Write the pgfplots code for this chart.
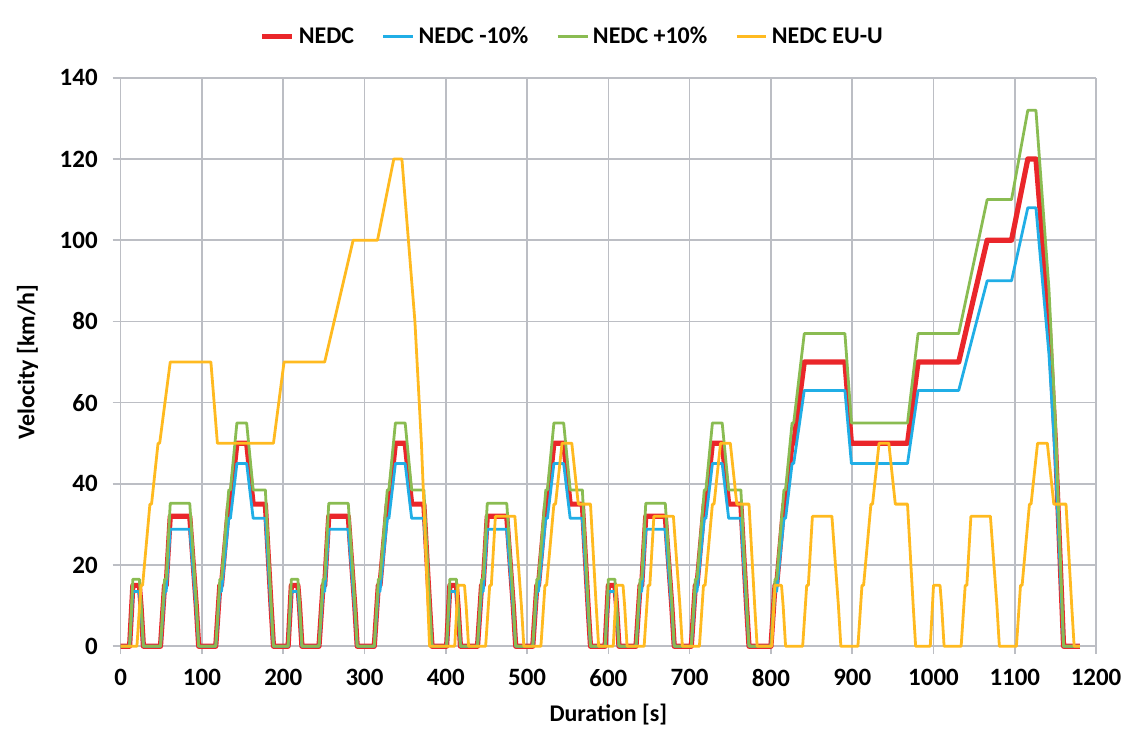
\documentclass[border=0pt]{standalone}
\usepackage{fontspec}
\setmainfont{Carlito}
\usepackage{pgfplots}
\usepackage{pgfplotstable}
\pgfplotsset{compat=1.18}
\definecolor{cred}{RGB}{234,38,42}
\definecolor{cblue}{RGB}{32,174,230}
\definecolor{cgreen}{RGB}{138,188,82}
\definecolor{cyellow}{RGB}{255,186,32}
\definecolor{cgrid}{RGB}{188,190,196}
% NEDC: t, v, v-10%, v+10%
\pgfplotstableread{
t v lo hi
0 0 0 0
11 0 0 0
15 15 13.5 16.5
23 15 13.5 16.5
25 10 9 11
28 0 0 0
49 0 0 0
54 15 13.5 16.5
56 15 13.5 16.5
61 32 28.8 35.2
85 32 28.8 35.2
93 10 9 11
96 0 0 0
117 0 0 0
122 15 13.5 16.5
124 15 13.5 16.5
133 35 31.5 38.5
135 35 31.5 38.5
143 50 45 55
155 50 45 55
163 35 31.5 38.5
176 35 31.5 38.5
178 35 31.5 38.5
185 10 9 11
188 0 0 0
195 0 0 0
206 0 0 0
210 15 13.5 16.5
218 15 13.5 16.5
220 10 9 11
223 0 0 0
244 0 0 0
249 15 13.5 16.5
251 15 13.5 16.5
256 32 28.8 35.2
280 32 28.8 35.2
288 10 9 11
291 0 0 0
312 0 0 0
317 15 13.5 16.5
319 15 13.5 16.5
328 35 31.5 38.5
330 35 31.5 38.5
338 50 45 55
350 50 45 55
358 35 31.5 38.5
371 35 31.5 38.5
373 35 31.5 38.5
380 10 9 11
383 0 0 0
390 0 0 0
401 0 0 0
405 15 13.5 16.5
413 15 13.5 16.5
415 10 9 11
418 0 0 0
439 0 0 0
444 15 13.5 16.5
446 15 13.5 16.5
451 32 28.8 35.2
475 32 28.8 35.2
483 10 9 11
486 0 0 0
507 0 0 0
512 15 13.5 16.5
514 15 13.5 16.5
523 35 31.5 38.5
525 35 31.5 38.5
533 50 45 55
545 50 45 55
553 35 31.5 38.5
566 35 31.5 38.5
568 35 31.5 38.5
575 10 9 11
578 0 0 0
585 0 0 0
596 0 0 0
600 15 13.5 16.5
608 15 13.5 16.5
610 10 9 11
613 0 0 0
634 0 0 0
639 15 13.5 16.5
641 15 13.5 16.5
646 32 28.8 35.2
670 32 28.8 35.2
678 10 9 11
681 0 0 0
702 0 0 0
707 15 13.5 16.5
709 15 13.5 16.5
718 35 31.5 38.5
720 35 31.5 38.5
728 50 45 55
740 50 45 55
748 35 31.5 38.5
761 35 31.5 38.5
763 35 31.5 38.5
770 10 9 11
773 0 0 0
780 0 0 0
800 0 0 0
805 15 13.5 16.5
807 15 13.5 16.5
816 35 31.5 38.5
818 35 31.5 38.5
826 50 45 55
828 50 45 55
841 70 63 77
891 70 63 77
899 50 45 55
968 50 45 55
981 70 63 77
1031 70 63 77
1066 100 90 110
1096 100 90 110
1116 120 108 132
1126 120 108 132
1142 80 72 88
1150 50 45 55
1160 0 0 0
1180 0 0 0
}\nedc
% NEDC EU-U: t, v
\pgfplotstableread{
t v
0 0
20 0
25 15
27 15
36 35
38 35
46 50
48 50
61 70
111 70
119 50
188 50
201 70
251 70
286 100
316 100
336 120
346 120
362 80
370 50
380 0
411 0
415 15
423 15
425 10
428 0
449 0
454 15
456 15
461 32
485 32
493 10
496 0
517 0
522 15
524 15
533 35
535 35
543 50
555 50
563 35
576 35
578 35
585 10
588 0
606 0
610 15
618 15
620 10
623 0
644 0
649 15
651 15
656 32
680 32
688 10
691 0
712 0
717 15
719 15
728 35
730 35
738 50
750 50
758 35
771 35
773 35
780 10
783 0
801 0
805 15
813 15
815 10
818 0
839 0
844 15
846 15
851 32
875 32
883 10
886 0
907 0
912 15
914 15
923 35
925 35
933 50
945 50
953 35
966 35
968 35
975 10
978 0
996 0
1000 15
1008 15
1010 10
1013 0
1034 0
1039 15
1041 15
1046 32
1070 32
1078 10
1081 0
1102 0
1107 15
1109 15
1118 35
1120 35
1128 50
1140 50
1148 35
1161 35
1163 35
1170 10
1173 0
1180 0
}\euu
\begin{document}
\begin{tikzpicture}
\begin{axis}[
  scale only axis,
  width=489pt, height=285pt,
  xmin=0, xmax=1200, ymin=0, ymax=140,
  xtick={0,100,...,1200}, ytick={0,20,...,140},
  grid=major,
  grid style={cgrid, line width=0.8pt},
  axis line style={cgrid, line width=0.8pt},
  axis x line*=bottom, axis y line*=left,
  tick style={cgrid, line width=0.8pt},
  tick align=outside,
  major tick length=4pt,
  /pgf/number format/assume math mode=true,
  /pgf/number format/1000 sep={},
  ticklabel style={font=\fontsize{12.5}{14}\selectfont\bfseries},
  xticklabel style={yshift=-4pt},
  yticklabel style={xshift=-4pt},
  xlabel={Duration [s]},
  ylabel={Velocity [km/h]},
  label style={font=\fontsize{12}{14}\selectfont\bfseries},
  xlabel style={yshift=-2pt},
  ylabel style={yshift=4pt},
  legend columns=4,
  legend style={at={(0.464,1.072)}, anchor=center, draw=none, fill=none,
    font=\fontsize{12}{14}\selectfont\bfseries,
    /tikz/every even column/.append style={column sep=12pt}},
  legend image code/.code={\draw[#1] (0pt,0pt) -- (15pt,0pt);},
  clip=false,
]
\addplot[cred, line width=2.6pt, line join=round] table[x=t, y=v] {\nedc};
\addlegendentry{NEDC}
\addplot[cblue, line width=1.4pt, line join=round] table[x=t, y=lo] {\nedc};
\addlegendentry{NEDC -10\%}
\addplot[cgreen, line width=1.4pt, line join=round] table[x=t, y=hi] {\nedc};
\addlegendentry{NEDC +10\%}
\addplot[cyellow, line width=1.4pt, line join=round] table[x=t, y=v] {\euu};
\addlegendentry{NEDC EU-U}
\coordinate (bl) at (rel axis cs:-0.1237,-0.165);
\coordinate (tr) at (rel axis cs:1.0297,1.1368);
\end{axis}
\useasboundingbox (bl) rectangle (tr);
\end{tikzpicture}
\end{document}
